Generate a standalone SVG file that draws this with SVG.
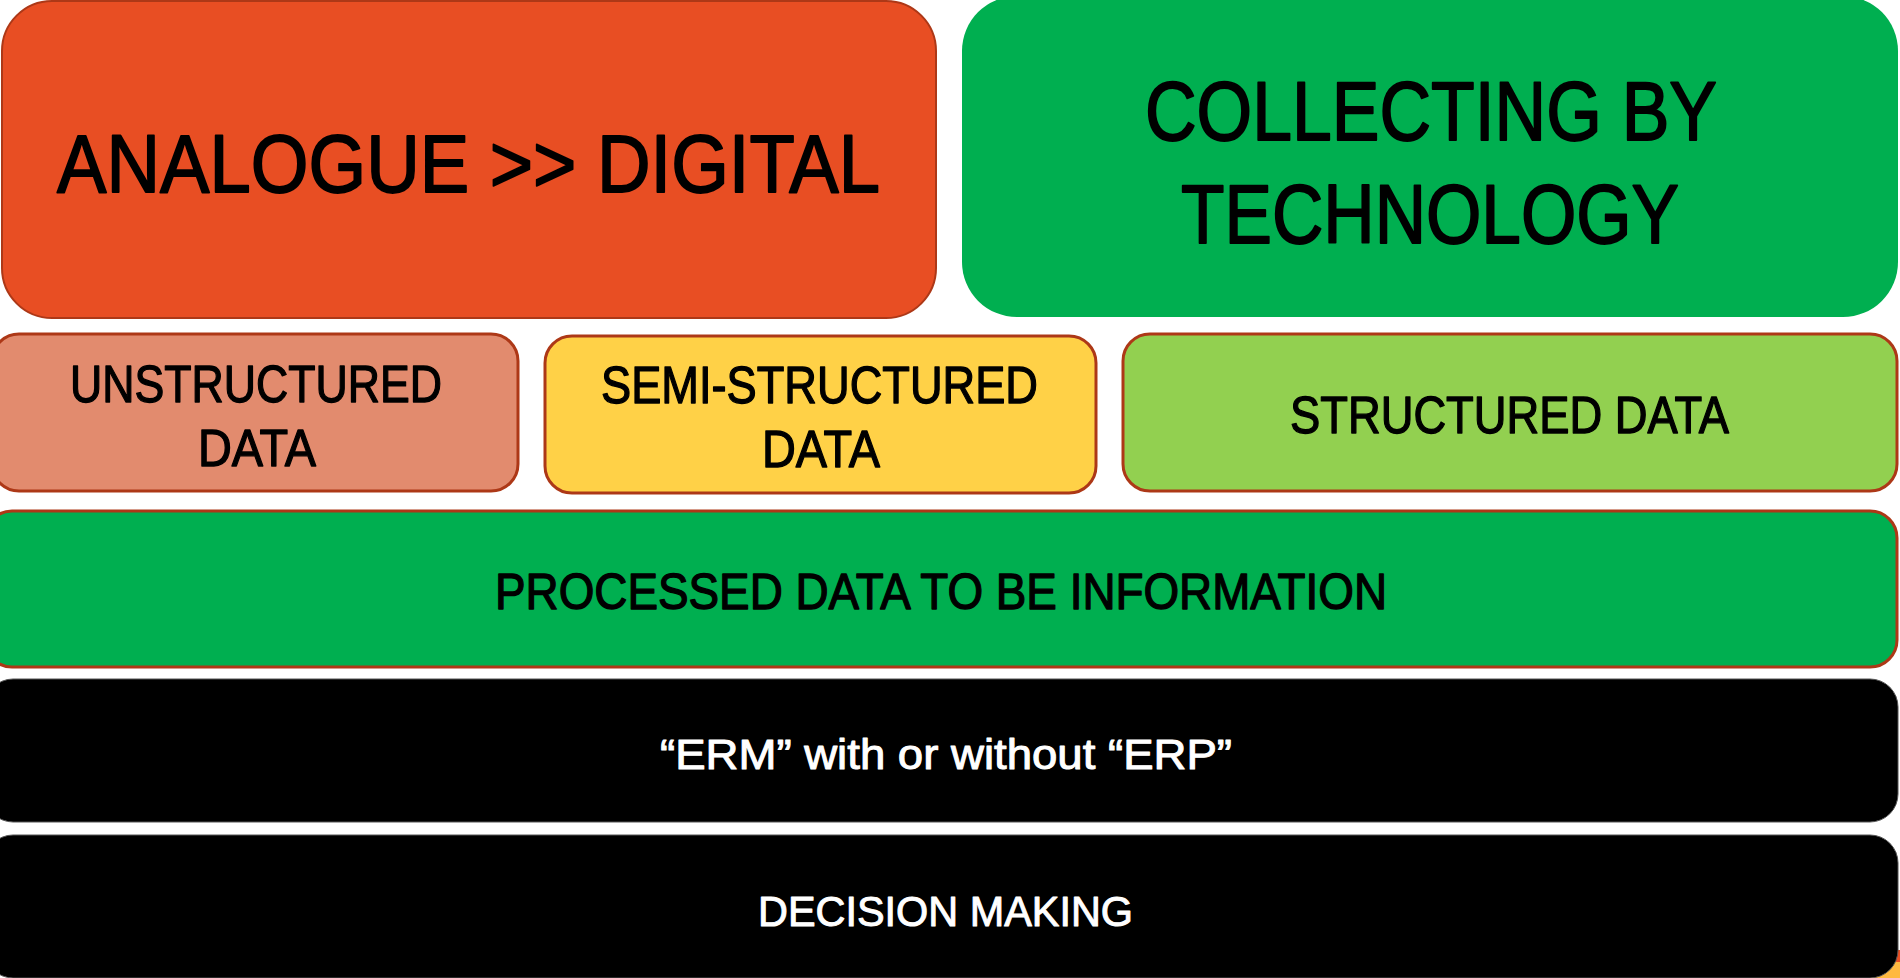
<svg xmlns="http://www.w3.org/2000/svg" width="1900" height="978" viewBox="0 0 1900 978">
<style>
.t{font-family:"Liberation Sans",Arial,sans-serif;fill:#000;stroke:#000;stroke-width:1.8;stroke-linejoin:round}
.s{stroke-width:1.3}
.w{font-family:"Liberation Sans",Arial,sans-serif;fill:#fff;stroke:#fff;stroke-width:1;stroke-linejoin:round}
.bd{stroke:#AD3817;stroke-width:3}
</style>
<rect x="0" y="0" width="1900" height="978" fill="#fff"/>
<g id="corner-bits">
<rect x="1890" y="950" width="10" height="28" fill="#E84E23"/>
<rect x="1860" y="962" width="40" height="16" fill="#FFB940"/>
</g>
<g id="analogue-digital">
<rect x="2" y="1" width="934" height="317" rx="50" fill="#E84E23" stroke="#AD3817" stroke-width="2"/>
<text class="t" x="57" y="192" font-size="82" textLength="823" lengthAdjust="spacingAndGlyphs">ANALOGUE &gt;&gt; DIGITAL</text>
</g>
<g id="collecting-by-technology">
<rect x="962" y="-4" width="936" height="321" rx="55" fill="#00AF50"/>
<text class="t" x="1145" y="140" font-size="83" textLength="572" lengthAdjust="spacingAndGlyphs">COLLECTING BY</text>
<text class="t" x="1181" y="243" font-size="83" textLength="498" lengthAdjust="spacingAndGlyphs">TECHNOLOGY</text>
</g>
<g id="unstructured-data">
<rect x="-8" y="334" width="526" height="157" rx="27" fill="#E28B6E" class="bd"/>
<text class="t s" x="70" y="402" font-size="52" textLength="372" lengthAdjust="spacingAndGlyphs">UNSTRUCTURED</text>
<text class="t s" x="198" y="466" font-size="52" textLength="118" lengthAdjust="spacingAndGlyphs">DATA</text>
</g>
<g id="semi-structured-data">
<rect x="545" y="336" width="551" height="157" rx="27" fill="#FFD147" class="bd"/>
<text class="t s" x="601" y="403" font-size="52" textLength="437" lengthAdjust="spacingAndGlyphs">SEMI-STRUCTURED</text>
<text class="t s" x="762" y="467" font-size="52" textLength="118" lengthAdjust="spacingAndGlyphs">DATA</text>
</g>
<g id="structured-data">
<rect x="1123" y="334" width="774" height="157" rx="27" fill="#92D050" class="bd"/>
<text class="t s" x="1290" y="433" font-size="52" textLength="439" lengthAdjust="spacingAndGlyphs">STRUCTURED DATA</text>
</g>
<g id="processed-data">
<rect x="-15" y="511" width="1912" height="156" rx="27" fill="#00AF50" class="bd"/>
<text class="t s" x="495" y="609" font-size="50" textLength="892" lengthAdjust="spacingAndGlyphs">PROCESSED DATA TO BE INFORMATION</text>
</g>
<g id="erm">
<rect x="-15" y="679" width="1913" height="143" rx="28" fill="#000" stroke="#555" stroke-width="1"/>
<text class="w" x="660" y="769" font-size="43" textLength="572" lengthAdjust="spacingAndGlyphs">“ERM” with or without “ERP”</text>
</g>
<g id="decision-making">
<rect x="-15" y="835" width="1913" height="143" rx="28" fill="#000" stroke="#555" stroke-width="1"/>
<text class="w" x="758" y="926" font-size="43" textLength="375" lengthAdjust="spacingAndGlyphs">DECISION MAKING</text>
</g>
<g id="connectors"></g>
</svg>
